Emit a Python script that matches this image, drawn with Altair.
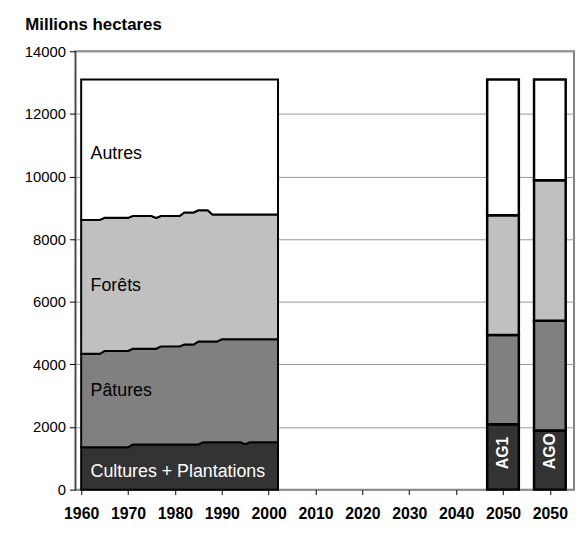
import altair as alt
import pandas as pd

# ---- data (millions of hectares) ----
years = list(range(1960, 2003))

cultures = [
    1350, 1350, 1350, 1350, 1350, 1350, 1350, 1350, 1350, 1350,
    1350, 1445, 1445, 1445, 1445, 1445, 1445, 1445, 1445, 1445,
    1445, 1445, 1445, 1445, 1445, 1445, 1510, 1510, 1510, 1510,
    1510, 1510, 1510, 1510, 1510, 1450, 1510, 1510, 1510, 1510,
    1510, 1510, 1510]
paturages = [
    2990, 2990, 2990, 2990, 2990, 3080, 3080, 3080, 3080, 3080,
    3080, 3055, 3055, 3055, 3055, 3055, 3055, 3130, 3130, 3130,
    3130, 3130, 3190, 3190, 3190, 3285, 3220, 3220, 3220, 3220,
    3295, 3295, 3295, 3295, 3295, 3355, 3295, 3295, 3295, 3295,
    3295, 3295, 3295]
forets = [
    4275, 4275, 4275, 4275, 4275, 4250, 4250, 4250, 4250, 4250,
    4250, 4240, 4240, 4240, 4240, 4240, 4180, 4165, 4165, 4165,
    4165, 4165, 4215, 4215, 4215, 4190, 4190, 4190, 4055, 4055,
    3980, 3980, 3980, 3980, 3980, 3980, 3980, 3980, 3980, 3980,
    3980, 3980, 3980]
autres = [
    4485, 4485, 4485, 4485, 4485, 4420, 4420, 4420, 4420, 4420,
    4420, 4360, 4360, 4360, 4360, 4360, 4420, 4360, 4360, 4360,
    4360, 4360, 4250, 4250, 4250, 4180, 4180, 4180, 4315, 4315,
    4315, 4315, 4315, 4315, 4315, 4315, 4315, 4315, 4315, 4315,
    4315, 4315, 4315]

scenarios = ["AG1", "AGO"]
scenario_years = [2050, 2060]
bar_cultures = [2090, 1890]
bar_paturages = [2845, 3505]
bar_forets = [3830, 4485]
bar_autres = [4335, 3220]

categories = ["Cultures + Plantations", "Pâtures", "Forêts", "Autres"]
cat_colors = ["#333333", "#808080", "#c0c0c0", "#ffffff"]

tick_years = list(range(1960, 2061, 5))

# ---- tables ----
series = [cultures, paturages, forets, autres]
area_rows = []
for k, (cat, vals) in enumerate(zip(categories, series)):
    for y, v in zip(years, vals):
        area_rows.append({"year": y, "value": v, "cat": cat, "ord": k})
area_df = pd.DataFrame(area_rows)

bar_series = [bar_cultures, bar_paturages, bar_forets, bar_autres]
bar_rows = []
for k, (cat, vals) in enumerate(zip(categories, bar_series)):
    for s, yr, v in zip(scenarios, scenario_years, vals):
        bar_rows.append({"year": yr, "value": v, "cat": cat, "ord": k, "scen": s})
bar_df = pd.DataFrame(bar_rows)

label_df = pd.DataFrame({
    "x": [1962, 1962, 1962, 1962],
    "y": [10720, 6490, 3140, 570],
    "text": ["Autres", "Forêts", "Pâtures", "Cultures + Plantations"],
    "col": ["black", "black", "black", "white"],
})
scen_df = pd.DataFrame({"year": scenario_years, "text": scenarios, "y": [650, 650]})

FONT = "Liberation Sans"
xscale = alt.Scale(domain=[1959.8, 2064.1], nice=False, zero=False)
yscale = alt.Scale(domain=[0, 14000], nice=False)
color = alt.Color("cat:N", scale=alt.Scale(domain=categories, range=cat_colors), legend=None)

x_axis = alt.Axis(
    values=tick_years, title=None, grid=False, domain=False,
    labelExpr="datum.value == 2060 ? '2050' : (datum.value % 10 == 0 ? toString(datum.value) : '')",
    labelFont=FONT, labelFontSize=16, labelFontWeight="bold", labelColor="black",
    tickColor="black", tickSize=5, labelPadding=11, labelOverlap=False,
)
y_axis = alt.Axis(
    values=list(range(0, 14001, 2000)), format="d",
    title="Millions hectares", titleAngle=0, titleAlign="left", titleBaseline="middle",
    titleX=-51, titleY=-27, titleFont=FONT, titleFontSize=17, titleFontWeight="bold",
    titleColor="black",
    labelFont=FONT, labelFontSize=15, labelColor="black", labelPadding=4,
    tickColor="black", tickSize=6, domainColor="#333333",
    grid=True, gridColor="#999999", gridWidth=1,
)

area = alt.Chart(area_df).mark_area(stroke="black", strokeWidth=2, interpolate="linear").encode(
    x=alt.X("year:Q", scale=xscale, axis=x_axis),
    y=alt.Y("value:Q", stack="zero", scale=yscale, axis=y_axis),
    color=color,
    order=alt.Order("ord:Q", sort="ascending"),
)

bars = alt.Chart(bar_df).mark_bar(size=32, stroke="black", strokeWidth=2.5).encode(
    x=alt.X("year:Q", scale=xscale),
    y=alt.Y("value:Q", stack="zero", scale=yscale),
    color=color,
    order=alt.Order("ord:Q", sort="ascending"),
)

labels = alt.Chart(label_df).mark_text(
    align="left", baseline="middle", font=FONT, fontSize=18
).encode(
    x=alt.X("x:Q", scale=xscale),
    y=alt.Y("y:Q", scale=yscale),
    text="text:N",
    color=alt.Color("col:N", scale=None),
)

scen_labels = alt.Chart(scen_df).mark_text(
    align="left", baseline="middle", angle=270, font=FONT, fontSize=16,
    fontWeight="bold", color="white"
).encode(
    x=alt.X("year:Q", scale=xscale),
    y=alt.Y("y:Q", scale=yscale),
    text="text:N",
)

chart = alt.layer(area, bars, labels, scen_labels).properties(
    width=504, height=443,
    autosize=alt.AutoSizeParams(type="none"),
    padding={"left": 68, "top": 41, "right": 3, "bottom": 31},
).configure_view(stroke="#808080", strokeWidth=2)

chart.save("out.html", embed_options={"renderer": "svg", "actions": False})
